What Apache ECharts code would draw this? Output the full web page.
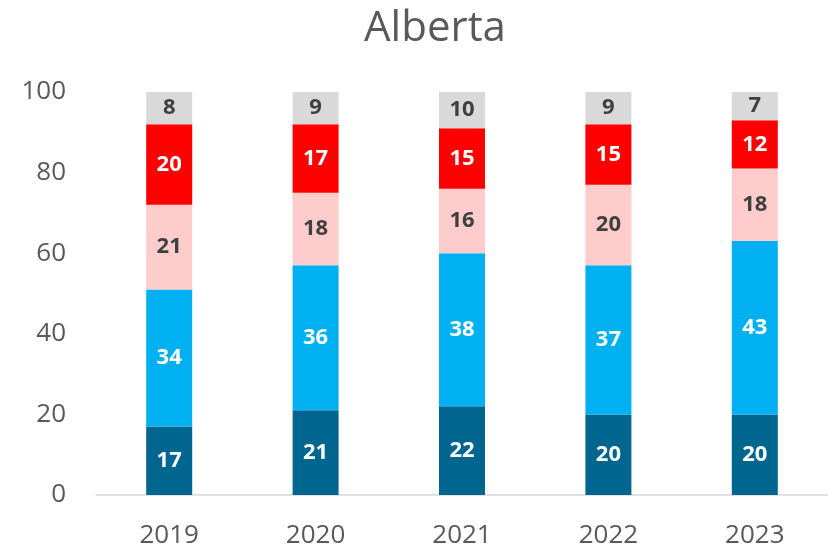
<!DOCTYPE html>
<html>
<head>
  <meta charset="utf-8">
  <title>Alberta</title>
</head>
<body style="margin: 0">
  <div id="chart_div" style="width: 828px; height: 550px;"></div>
  <script src="https://cdn.jsdelivr.net/npm/echarts@6/dist/echarts.min.js"></script>
  <script>
    var years = ['2019', '2020', '2021', '2022', '2023'];
    var s1 = [17, 21, 22, 20, 20];
    var s2 = [34, 36, 38, 37, 43];
    var s3 = [21, 18, 16, 20, 18];
    var s4 = [20, 17, 15, 15, 12];
    var s5 = [8, 9, 10, 9, 7];
    var yTicks = [0, 20, 40, 60, 80, 100];

    var font = 'Open Sans';
    function seg(name, data, color, labelColor) {
      return {
        name: name,
        type: 'bar',
        stack: 'total',
        barWidth: 46,
        data: data,
        itemStyle: { color: color },
        label: {
          show: true,
          position: 'inside',
          color: labelColor,
          fontFamily: font,
          fontWeight: 'bold',
          fontSize: 22
        }
      };
    }

    var myChart = echarts.init(document.getElementById('chart_div'));
    var option = {
      backgroundColor: '#fff',
      animation: false,
      title: {
        text: 'Alberta',
        left: 430,
        textAlign: 'center',
        top: 3,
        textStyle: { color: '#595959', fontFamily: font, fontWeight: 'normal', fontSize: 42 }
      },
      grid: { left: 96, right: 0, top: 92, bottom: 55 },
      xAxis: {
        type: 'category',
        data: years,
        axisLine: { lineStyle: { color: '#D9D9D9', width: 1.5 } },
        axisTick: { show: false },
        axisLabel: { color: '#595959', fontFamily: font, fontSize: 26, margin: 28 }
      },
      yAxis: {
        type: 'value',
        min: yTicks[0],
        max: yTicks[yTicks.length - 1],
        interval: 20,
        splitLine: { show: false },
        axisLine: { show: false },
        axisTick: { show: false },
        axisLabel: { color: '#595959', fontFamily: font, fontSize: 26, margin: 30 }
      },
      series: [
        seg('s1', s1, '#006690', '#fff'),
        seg('s2', s2, '#00B0F0', '#fff'),
        seg('s3', s3, '#FFCCCC', '#404040'),
        seg('s4', s4, '#FF0000', '#fff'),
        seg('s5', s5, '#D9D9D9', '#404040')
      ]
    };
    myChart.setOption(option);
  </script>
</body>
</html>
